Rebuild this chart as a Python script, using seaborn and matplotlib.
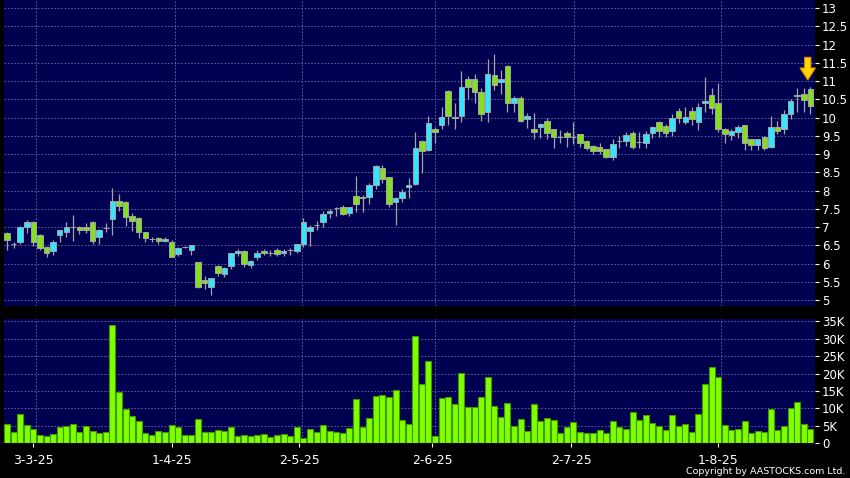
import numpy as np
import pandas as pd
import matplotlib
matplotlib.use("Agg")
import matplotlib.pyplot as plt
import seaborn as sns

# daily OHLC (HKD)
opens = [6.84, 6.53, 6.59, 7.00, 7.14, 6.78, 6.45, 6.34, 6.78, 6.86,
         7.00, 7.00, 7.00, 7.14, 6.73, 6.97, 7.22, 7.71, 7.68, 7.30,
         7.25, 6.86, 6.67, 6.70, 6.62, 6.59, 6.26, 6.45, 6.37, 6.04,
         5.55, 5.36, 5.93, 5.71, 5.93, 6.29, 6.34, 5.96, 6.18, 6.34,
         6.29, 6.37, 6.29, 6.37, 6.34, 6.53, 6.90, 7.05, 7.14, 7.38,
         7.52, 7.55, 7.38, 7.85, 7.80, 7.82, 8.15, 8.62, 8.37, 7.68,
         7.79, 8.09, 8.17, 9.35, 9.11, 9.70, 9.81, 10.74, 10.00, 10.03,
         11.07, 11.07, 10.69, 10.16, 11.16, 10.98, 11.41, 10.39, 10.53, 9.95,
         9.70, 9.75, 9.90, 9.68, 9.46, 9.57, 9.46, 9.54, 9.36, 9.23,
         9.20, 9.13, 8.93, 9.36, 9.36, 9.57, 9.33, 9.31, 9.57, 9.87,
         9.77, 9.64, 10.18, 9.88, 10.18, 9.88, 10.39, 10.62, 10.39, 9.70,
         9.51, 9.61, 9.79, 9.40, 9.24, 9.46, 9.20, 9.73, 9.68, 10.09,
         10.60, 10.64, 10.77]
highs = [6.86, 6.60, 7.02, 7.19, 7.16, 6.80, 6.47, 6.66, 6.92, 7.14,
         7.33, 7.02, 7.10, 7.16, 6.94, 7.10, 8.07, 7.90, 7.72, 7.40,
         7.27, 6.88, 6.73, 6.73, 6.72, 6.65, 6.45, 6.48, 6.50, 6.04,
         5.66, 5.60, 5.95, 5.90, 6.30, 6.40, 6.36, 6.10, 6.36, 6.40,
         6.36, 6.42, 6.40, 6.42, 6.55, 7.25, 7.05, 7.16, 7.45, 7.50,
         7.55, 7.60, 7.55, 8.40, 7.87, 8.20, 8.70, 8.70, 8.37, 7.82,
         8.05, 8.35, 9.61, 9.38, 10.04, 9.75, 10.30, 10.76, 10.40, 11.27,
         11.15, 11.20, 10.80, 11.60, 11.74, 11.30, 11.45, 10.60, 10.60, 10.12,
         10.12, 9.85, 10.00, 9.70, 9.65, 9.63, 9.88, 9.56, 9.38, 9.26,
         9.30, 9.15, 9.42, 9.50, 9.60, 9.62, 9.60, 9.63, 9.78, 9.90,
         9.82, 10.10, 10.25, 10.30, 10.28, 10.40, 11.12, 10.80, 10.95, 9.72,
         9.70, 9.80, 9.80, 9.42, 9.42, 9.50, 10.04, 9.90, 10.20, 10.50,
         10.80, 10.80, 10.85]
lows = [6.37, 6.44, 6.55, 6.84, 6.48, 6.36, 6.18, 6.25, 6.60, 6.73,
        6.62, 6.80, 6.84, 6.55, 6.55, 6.86, 6.78, 7.45, 7.03, 6.90,
        6.70, 6.60, 6.60, 6.55, 6.58, 6.18, 6.20, 6.42, 6.25, 5.33,
        5.30, 5.14, 5.66, 5.63, 5.86, 6.20, 5.90, 5.88, 6.10, 6.25,
        6.20, 6.22, 6.20, 6.25, 6.30, 6.45, 6.49, 6.93, 7.00, 7.25,
        7.30, 7.33, 7.30, 7.41, 7.42, 7.63, 8.05, 8.20, 7.56, 7.05,
        7.70, 7.80, 8.15, 8.49, 9.09, 9.30, 9.70, 9.80, 9.70, 9.88,
        10.50, 10.40, 9.90, 9.88, 10.75, 10.64, 10.14, 10.14, 9.88, 9.71,
        9.41, 9.44, 9.40, 9.16, 9.30, 9.20, 9.29, 9.20, 9.10, 9.00,
        9.00, 8.88, 8.85, 9.18, 9.22, 9.14, 9.18, 9.18, 9.45, 9.48,
        9.48, 9.50, 9.84, 9.82, 9.80, 9.65, 10.16, 10.10, 9.60, 9.30,
        9.38, 9.45, 9.10, 9.10, 9.12, 9.10, 9.16, 9.56, 9.55, 9.96,
        10.16, 10.16, 10.10]
closes = [6.64, 6.53, 7.00, 7.14, 6.59, 6.42, 6.29, 6.59, 6.92, 7.00,
          7.00, 6.93, 6.92, 6.62, 6.92, 6.97, 7.71, 7.58, 7.27, 7.16,
          6.86, 6.70, 6.67, 6.62, 6.67, 6.18, 6.42, 6.45, 6.50, 5.36,
          5.47, 5.60, 5.74, 5.88, 6.29, 6.34, 6.00, 6.07, 6.29, 6.30,
          6.29, 6.27, 6.34, 6.37, 6.53, 7.14, 7.00, 7.05, 7.36, 7.44,
          7.52, 7.36, 7.55, 7.63, 7.80, 8.15, 8.67, 8.32, 7.63, 7.79,
          7.97, 8.15, 9.18, 9.09, 9.84, 9.60, 10.02, 10.03, 10.00, 10.84,
          10.85, 10.69, 10.09, 11.19, 10.88, 11.07, 10.39, 10.53, 9.91, 10.04,
          9.61, 9.82, 9.58, 9.47, 9.46, 9.47, 9.46, 9.31, 9.18, 9.09,
          9.08, 8.93, 9.29, 9.36, 9.52, 9.20, 9.33, 9.55, 9.73, 9.64,
          9.58, 9.98, 9.98, 10.02, 9.95, 10.28, 10.46, 10.25, 9.68, 9.55,
          9.63, 9.73, 9.31, 9.24, 9.40, 9.18, 9.73, 9.64, 10.10, 10.46,
          10.60, 10.48, 10.33]
# volume in thousands of shares
volumes = [5.4, 3.1, 8.4, 5.2, 4.2, 2.4, 2.2, 2.6, 4.7, 4.9,
           5.6, 3.3, 5.1, 3.6, 2.9, 3.1, 33.8, 14.8, 9.7, 7.8,
           6.4, 3.0, 2.4, 3.6, 3.2, 5.2, 4.7, 2.5, 2.4, 6.9,
           3.3, 3.1, 3.9, 3.5, 4.7, 2.1, 2.5, 2.1, 2.4, 2.6,
           1.7, 2.5, 2.6, 2.0, 4.6, 1.5, 4.1, 3.3, 5.3, 3.5,
           3.1, 2.9, 4.5, 12.6, 4.8, 7.2, 13.6, 13.9, 13.4, 15.3,
           6.8, 5.5, 30.7, 17.0, 23.6, 2.1, 12.9, 13.2, 11.3, 20.3,
           10.3, 10.5, 13.2, 19.0, 10.7, 7.6, 11.7, 5.0, 6.9, 3.6,
           11.2, 6.5, 7.2, 6.7, 3.0, 4.7, 6.0, 3.3, 3.0, 3.0,
           3.8, 3.0, 6.5, 4.7, 4.0, 9.1, 6.7, 8.1, 5.7, 5.1,
           3.7, 8.1, 5.1, 5.6, 3.3, 8.3, 17.0, 21.8, 19.0, 5.2,
           3.8, 4.1, 6.4, 3.0, 3.6, 3.3, 9.9, 3.8, 5.1, 10.1,
           11.8, 5.5, 4.0]

date_labels = ["3-3-25", "1-4-25", "2-5-25", "2-6-25", "2-7-25", "1-8-25"]
date_ticks = [4.0, 25.1, 44.4, 64.6, 85.7, 108.0]
price_ticks = np.arange(5, 13.01, 0.5)
vol_ticks = np.arange(0, 35.1, 5)

df = pd.DataFrame({"open": opens, "high": highs, "low": lows,
                   "close": closes, "volume": volumes})
df["idx"] = np.arange(len(df))

NAVY = "#000050"
GRID = "#6a6aa8"
CYAN = "#33e6ff"
GREEN = "#84e01e"
WICK = "#a4a4a4"

sns.set_theme(style="dark")
plt.rcParams["font.family"] = ["DejaVu Sans"]

fig = plt.figure(figsize=(8.5, 4.78), dpi=100, facecolor="black")
ax_p = fig.add_axes([4 / 850, 172 / 478, 811 / 850, 306 / 478])
ax_v = fig.add_axes([4 / 850, 34.7 / 478, 811 / 850, 124 / 478])

for ax in (ax_p, ax_v):
    ax.set_facecolor(NAVY)
    for s in ax.spines.values():
        s.set_visible(False)
    ax.yaxis.tick_right()
    ax.tick_params(axis="y", colors="white", labelsize=8.5, length=3,
                   width=0.8, pad=2, right=True, left=False)
    ax.set_xlim(-0.46, 122.7)
    for t in date_ticks:
        ax.axvline(t + 0.4, color=GRID, lw=0.6, ls=(0, (2, 2)), zorder=0)

# ---- price panel
up = df["close"] > df["open"]
down = df["close"] < df["open"]
body_colors = np.where(up, CYAN, np.where(down, GREEN, WICK))
body_bottom = df[["open", "close"]].min(axis=1)
body_h = (df["close"] - df["open"]).abs().clip(lower=0.012)

ax_p.vlines(df["idx"], df["low"], df["high"], color=WICK, lw=0.9, zorder=2)
ax_p.bar(df["idx"], body_h, bottom=body_bottom, width=0.84,
         color=body_colors, edgecolor=WICK, linewidth=0.7, zorder=3)

ax_p.set_ylim(4.84, 13.22)
ax_p.set_yticks(price_ticks)
ax_p.set_yticklabels([f"{v:g}" for v in price_ticks])
for v in price_ticks:
    ax_p.axhline(v, color=GRID, lw=0.6, ls=(0, (2, 2)), zorder=0)
ax_p.set_xticks([])
ax_p.grid(False)

# marker arrow above the latest candle
last = df["idx"].iloc[-1]
ax_p.annotate("", xy=(last - 0.4, df["high"].iloc[-1] + 0.18),
              xytext=(last - 0.4, df["high"].iloc[-1] + 0.8),
              arrowprops=dict(arrowstyle="simple,head_length=0.86,head_width=1.1,tail_width=0.45",
                              mutation_scale=10, shrinkA=0, shrinkB=0,
                              fc="#ffd400", ec="#e09000", lw=0.8),
              zorder=5)

# ---- volume panel
sns.barplot(data=df, x="idx", y="volume", native_scale=True, width=0.91,
            color="#80ff00", saturation=1, errorbar=None,
            edgecolor="#3f9a00", linewidth=0.8, ax=ax_v, zorder=3)
ax_v.set_xlim(-0.46, 122.7)
ax_v.set_ylim(0, 35.57)
ax_v.set_yticks(vol_ticks)
ax_v.set_yticklabels(["0"] + [f"{int(v)}K" for v in vol_ticks[1:]])
for v in vol_ticks[1:]:
    ax_v.axhline(v, color=GRID, lw=0.6, ls=(0, (2, 2)), zorder=0)
ax_v.set_xticks(date_ticks)
ax_v.set_xticklabels(date_labels)
ax_v.tick_params(axis="x", colors="white", labelsize=9, length=3,
                 width=0.8, pad=5, bottom=True)
ax_v.set_xlabel("")
ax_v.set_ylabel("")
ax_v.grid(False)

fig.text(845 / 850, 1 - 471.5 / 478, "Copyright by AASTOCKS.com Ltd.",
         ha="right", va="center", color="white", fontsize=6.8)

fig.savefig("out.png", dpi=100, facecolor="black")
